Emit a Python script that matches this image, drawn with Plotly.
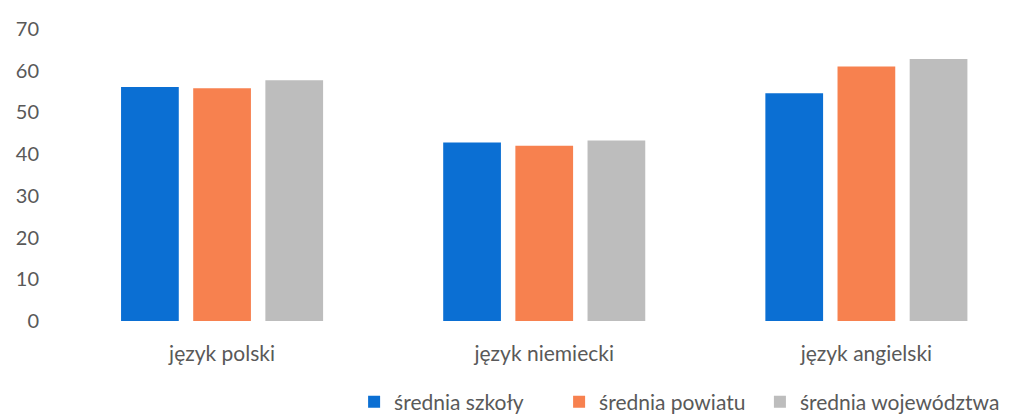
import plotly.graph_objects as go

categories = ["język polski", "język niemiecki", "język angielski"]
series_names = ["średnia szkoły", "średnia powiatu", "średnia województwa"]
szkola = [56.1, 42.8, 54.6]
powiat = [55.8, 42.0, 61.0]
wojewodztwo = [57.7, 43.3, 62.8]
y_ticks = [0, 10, 20, 30, 40, 50, 60, 70]

colors = ["#0B6FD3", "#F7814F", "#BDBDBD"]
legend_groups = ["legend", "legend", "legend2"]
font_family = "Lato, 'Open Sans', sans-serif"
text_color = "#595959"

fig = go.Figure()
for name, vals, col, lg in zip(series_names, [szkola, powiat, wojewodztwo], colors, legend_groups):
    fig.add_trace(go.Bar(x=categories, y=vals, name=name, legend=lg,
                         marker=dict(color=col, line=dict(width=0))))

legend_common = dict(orientation="h", xref="container", yref="container",
                     xanchor="left", y=0.055, yanchor="middle",
                     font=dict(size=21, color=text_color), bgcolor="rgba(0,0,0,0)")

fig.update_layout(
    width=1012, height=417,
    margin=dict(l=47, r=8, t=19, b=104, pad=0),
    paper_bgcolor="white", plot_bgcolor="white",
    barmode="group", bargap=0.328, bargroupgap=0.2,
    font=dict(family=font_family, size=20, color=text_color),
    xaxis=dict(range=[-0.5, 2.452], showgrid=False, zeroline=False, showline=False,
               ticks="outside", ticklen=14, tickcolor="rgba(0,0,0,0)",
               tickfont=dict(size=21, color=text_color)),
    yaxis=dict(range=[0, 70], tickvals=y_ticks, showgrid=False, zeroline=False, showline=False,
               ticks="outside", ticklen=17, tickcolor="rgba(0,0,0,0)",
               tickfont=dict(size=20, color=text_color)),
    legend=dict(x=0.342, entrywidth=160, entrywidthmode="pixels", **legend_common),
    legend2=dict(x=0.743, **legend_common),
    showlegend=True,
)

fig.write_html("out.html")
